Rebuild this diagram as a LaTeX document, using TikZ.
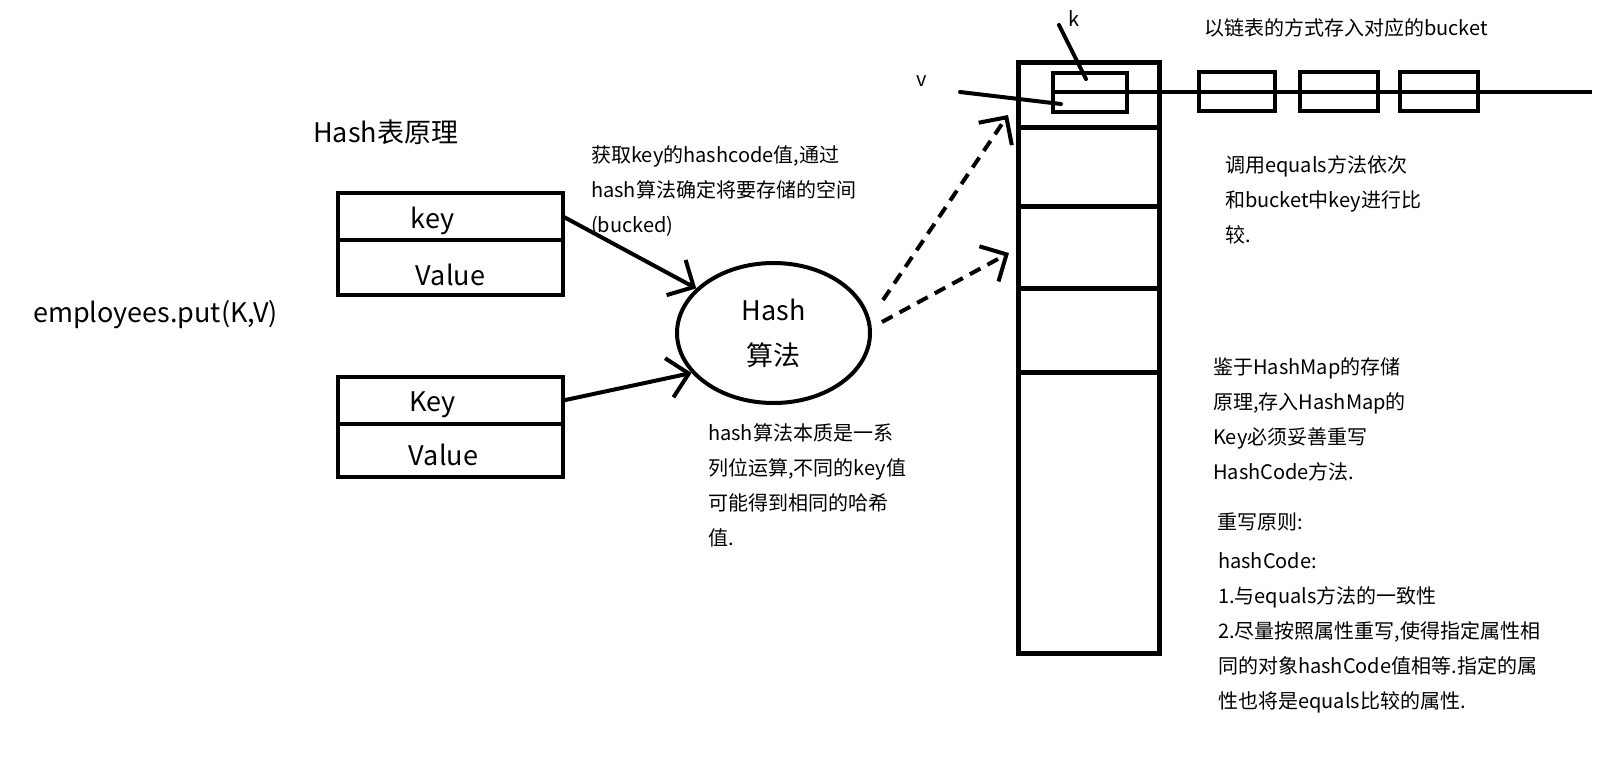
\documentclass[tikz,border=0pt]{standalone}
\usepackage{fontspec}
\setmainfont{Noto Sans CJK SC}
\usetikzlibrary{positioning,arrows.meta,shapes.geometric}

\begin{document}
\begin{tikzpicture}[x=1pt,y=-1pt,
  cell/.style={draw, line width=4.5pt, minimum width=225pt, inner sep=0pt, outer sep=0pt},
  every label/.style={inner sep=0pt, font=\fontsize{27}{30}\selectfont},
  bucket/.style={draw, line width=5pt, minimum width=141pt, inner sep=0pt, outer sep=0pt},
  slotbox/.style={draw, line width=4pt, minimum width=74pt, minimum height=39pt, inner sep=0pt, outer sep=0pt},
  note/.style={anchor=north west, inner sep=0pt, align=left, font=\fontsize{20}{35}\selectfont},
  big/.style={anchor=west, inner sep=0pt, font=\fontsize{27}{30}\selectfont},
  link/.style={line width=4pt, -{Straight Barb[length=20pt,width=40pt,line width=4pt]}},
  hop/.style={link, dash pattern=on 12pt off 8pt}]

  \useasboundingbox (0,0) rectangle (1622,758);

  \node(title)[big] at (313,132) {Hash表原理};
  \node(call)[big] at (33,315) {employees.put(K,V)};

  % entries
  \node(K1)[cell,minimum height=47pt,label={[xshift=-18pt,yshift=-4pt]center:key}] at (450.5,216.5) {};
  \node(V1)[cell,minimum height=55pt,below=0pt of K1,label={[yshift=-7pt]center:Value}] {};
  \node(K2)[cell,minimum height=47pt,label={[xshift=-18pt,yshift=-4pt]center:Key}] at (450.5,400.5) {};
  \node(V2)[cell,minimum height=53pt,below=0pt of K2,label={[xshift=-7pt,yshift=-4pt]center:Value}] {};

  \node(H)[ellipse,draw,line width=4pt,minimum width=193pt,minimum height=140pt,inner sep=0pt,align=center,font=\fontsize{27}{45}\selectfont] at (773.5,333) {Hash\\算法};

  \draw[link] (K1.east) -- (H.150);
  \draw[link] (K2.east) -- (H.206);

  % buckets
  \node(T1)[bucket,minimum height=65pt] at (1088.5,94.5) {};
  \node(T2)[bucket,minimum height=79pt,below=0pt of T1] {};
  \node(T3)[bucket,minimum height=82pt,below=0pt of T2] {};
  \node(T4)[bucket,minimum height=84pt,below=0pt of T3] {};
  \node(T5)[bucket,minimum height=281pt,below=0pt of T4] {};

  \coordinate (d1) at (883,300);
  \coordinate (e1) at (1008,115);
  \coordinate (d2) at (882,322);
  \coordinate (e2) at (1009,253);
  \draw[hop] (d1) -- (e1);
  \draw[hop] (d2) -- (e2);

  % linked list
  \node(S)[slotbox] at (1089.5,92) {};
  \node(C1)[slotbox,minimum width=76pt] at (1237,91) {};
  \node(C2)[slotbox,minimum width=78pt,right=25pt of C1] {};
  \node(C3)[slotbox,minimum width=78pt,right=22pt of C2] {};
  \coordinate (tail) at (1592,92);
  \draw[line width=4pt] (S.west) -- (tail);

  \node(k)[inner sep=0pt,font=\fontsize{20}{24}\selectfont] at (1074,19) {k};
  \node(v)[inner sep=0pt,font=\fontsize{20}{24}\selectfont] at (922,81) {v};
  \coordinate (ktop) at (1059,25);
  \coordinate (kfoot) at (1086,79);
  \coordinate (vtail) at (960,92);
  \coordinate (vhead) at (1061,104);
  \draw[line width=4pt,line cap=round] (ktop) -- (kfoot);
  \draw[line width=4pt,line cap=round] (vtail) -- (vhead);

  % notes
  \node(n1)[note] at (591,145) {获取key的hashcode值,通过\\hash算法确定将要存储的空间\\(bucked)};
  \node(n2)[note] at (708,423) {hash算法本质是一系\\列位运算,不同的key值\\可能得到相同的哈希\\值.};
  \node(n3)[note] at (1204,18) {以链表的方式存入对应的bucket};
  \node(n4)[note] at (1225,155) {调用equals方法依次\\和bucket中key进行比\\较.};
  \node(n5)[note] at (1213,357) {鉴于HashMap的存储\\原理,存入HashMap的\\Key必须妥善重写\\HashCode方法.};
  \node(n6)[note] at (1217,513) {重写原则:};
  \node(n7)[note] at (1218,552) {hashCode:\\1.与equals方法的一致性\\2.尽量按照属性重写,使得指定属性相\\同的对象hashCode值相等.指定的属\\性也将是equals比较的属性.};
\end{tikzpicture}
\end{document}
